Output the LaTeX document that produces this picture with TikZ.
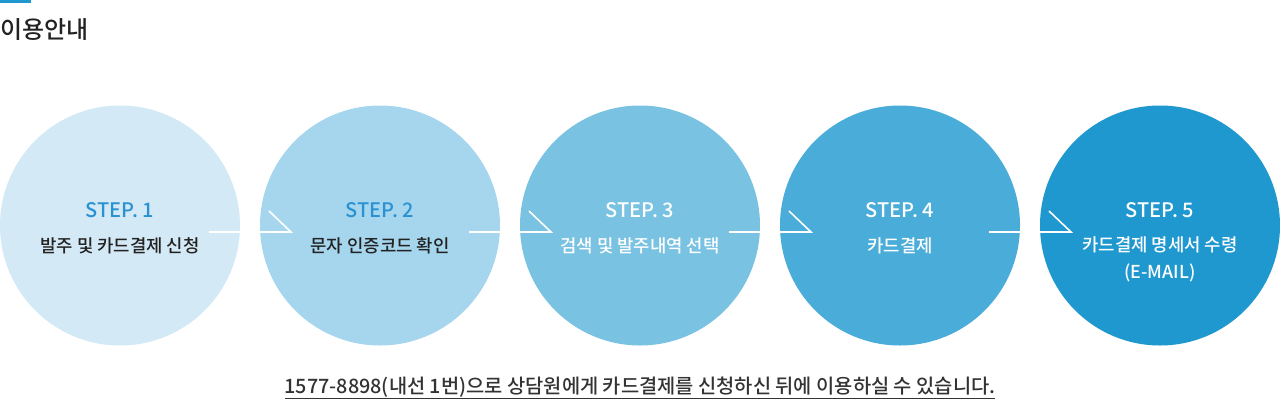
\documentclass[tikz,border=0pt]{standalone}
\usepackage{fontspec}
\setmainfont{Noto Sans CJK KR Medium}
\usetikzlibrary{calc}
\definecolor{cA}{HTML}{D3E9F5}
\definecolor{cB}{HTML}{A6D6ED}
\definecolor{cC}{HTML}{79C2E2}
\definecolor{cD}{HTML}{4AACD8}
\definecolor{cE}{HTML}{1F98D0}
\definecolor{stepblue}{HTML}{2A92D2}
\definecolor{darktxt}{HTML}{222222}
\definecolor{bottxt}{HTML}{333333}
\tikzset{
  stepcircle/.style={circle, minimum size=240pt, inner sep=0pt, draw=none},
  steptitle/.style={font=\fontsize{20}{22}\selectfont, inner sep=0pt, anchor=center},
  steplabel/.style={font=\fontsize{17.8}{27}\selectfont, inner sep=0pt, anchor=center, align=center},
  arrowline/.style={draw=white, line width=1.6pt, line cap=butt},
}
\begin{document}
\begin{tikzpicture}[x=1pt,y=-1pt]
\useasboundingbox (0,0) rectangle (1280,405);
% title
\fill[cE] (0,0) rectangle (31,2.5);
\node[anchor=west, inner sep=0pt, text=darktxt, font=\fontsize{24}{26}\selectfont] (title) at (0,30) {이용안내};
% circles
\node[stepcircle, fill=cA] (c1) at (120,225.5) {};
\node[stepcircle, fill=cB] (c2) at (380,225.5) {};
\node[stepcircle, fill=cC] (c3) at (640,225.5) {};
\node[stepcircle, fill=cD] (c4) at (900,225.5) {};
\node[stepcircle, fill=cE] (c5) at (1160,225.5) {};
% step titles
\node[steptitle, text=stepblue] (s1) at (120,210) {STEP. 1};
\node[steptitle, text=stepblue] (s2) at (380,210) {STEP. 2};
\node[steptitle, text=white] (s3) at (640,210) {STEP. 3};
\node[steptitle, text=white] (s4) at (900,210) {STEP. 4};
\node[steptitle, text=white] (s5) at (1160,210) {STEP. 5};
% step labels
\node[steplabel, text=darktxt] (t1) at (120,246) {발주 및 카드결제 신청};
\node[steplabel, text=darktxt] (t2) at (380,246) {문자 인증코드 확인};
\node[steplabel, text=white] (t3) at (640,246) {검색 및 발주내역 선택};
\node[steplabel, text=white] (t4) at (900,246) {카드결제};
\node[steplabel, text=white] (t5) at (1160,259.5) {카드결제 명세서 수령\\(E-MAIL)};
% connectors
\foreach \i/\j in {1/2,2/3,3/4,4/5}{
  \coordinate (a\i s) at ($(c\i.center)+(89,6.5)$);
  \coordinate (a\i e) at ($(c\j.center)+(-89,6.5)$);
  \coordinate (a\i h) at ($(c\j.center)+(-111,-14.5)$);
  \draw[arrowline] (a\i s) -- (a\i e) -- (a\i h);
}
% bottom text
\node[inner sep=0pt, text=bottxt, font=\fontsize{19.8}{22}\selectfont] (bottom) at (640,388) {\underline{1577-8898(내선 1번)으로 상담원에게 카드결제를 신청하신 뒤에 이용하실 수 있습니다.}};
\end{tikzpicture}
\end{document}
